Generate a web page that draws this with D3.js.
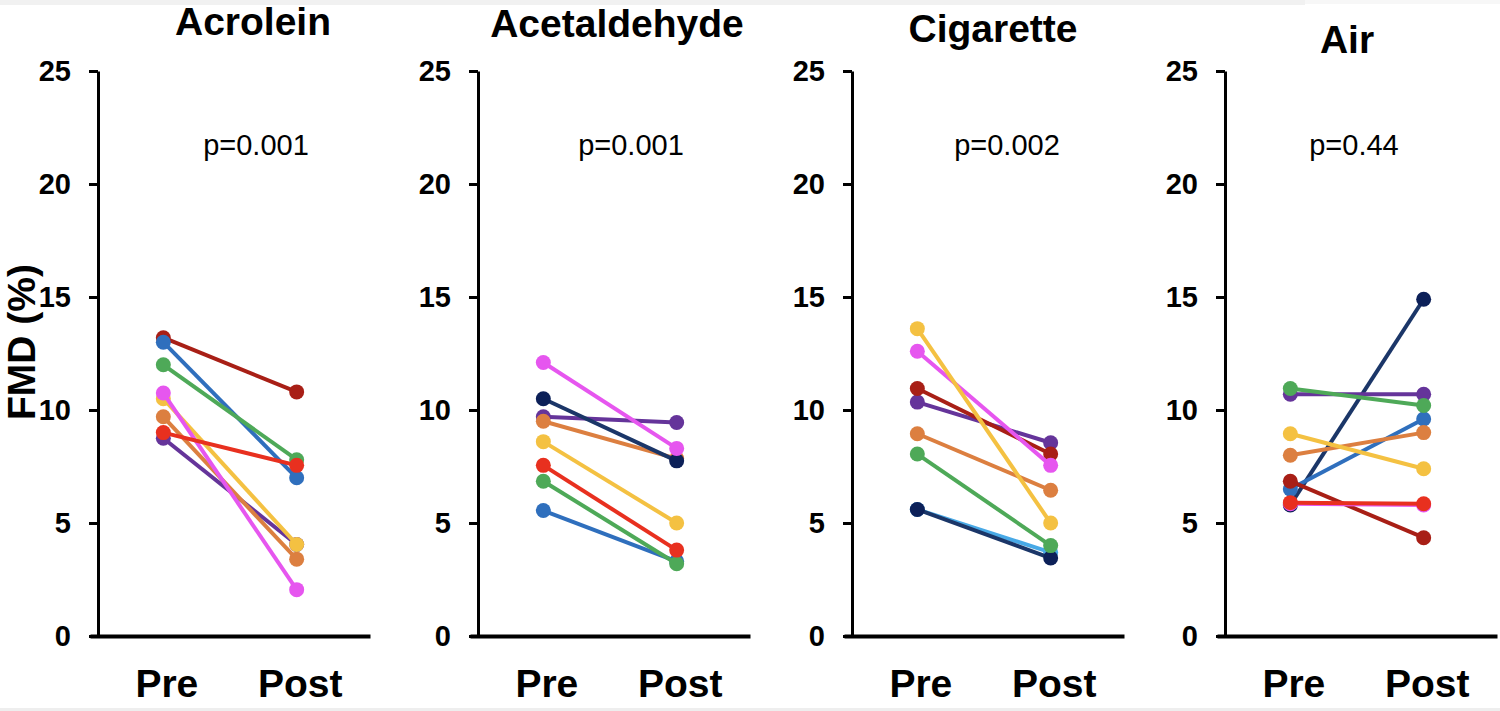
<!DOCTYPE html>
<html>
<head>
<meta charset="utf-8">
<script src="https://cdn.jsdelivr.net/npm/d3@7"></script>
<style>
  html, body { margin: 0; padding: 0; background: #fff; }
  svg { display: block; }
</style>
</head>
<body>
<svg id="chart" width="1500" height="711"></svg>
<script>
// ---------------- DATA ----------------
const panelTitles = ["Acrolein", "Acetaldehyde", "Cigarette", "Air"];
const pValues = ["p=0.001", "p=0.001", "p=0.002", "p=0.44"];
const timepoints = ["Pre", "Post"];
const yTicks = [0, 5, 10, 15, 20, 25];
const yLabel = "FMD (%)";

// subjects (drawing order: later = on top)
const acroleinSubjects = ["darkred", "blue", "green", "purple", "orange", "yellow", "magenta", "red"];
const acroleinPre  = [13.2, 13.0, 12.0, 8.75, 9.7, 10.5, 10.75, 9.0];
const acroleinPost = [10.8, 7.0, 7.8, 4.05, 3.4, 4.05, 2.05, 7.55];

const acetaldehydeSubjects = ["blue", "green", "red", "yellow", "purple", "orange", "navy", "magenta"];
const acetaldehydePre  = [5.55, 6.85, 7.55, 8.6, 9.7, 9.5, 10.5, 12.1];
const acetaldehydePost = [3.3, 3.2, 3.8, 5.0, 9.45, 7.85, 7.75, 8.3];

const cigaretteSubjects = ["lightblue", "navy", "green", "orange", "purple", "darkred", "magenta", "yellow"];
const cigarettePre  = [5.6, 5.6, 8.05, 8.95, 10.35, 10.95, 12.6, 13.6];
const cigarettePost = [3.7, 3.45, 4.0, 6.45, 8.55, 8.05, 7.55, 5.0];

const airSubjects = ["navy", "blue", "darkred", "magenta", "red", "orange", "yellow", "purple", "green"];
const airPre  = [5.8, 6.5, 6.85, 5.85, 5.9, 8.0, 8.95, 10.7, 10.95];
const airPost = [14.9, 9.6, 4.35, 5.8, 5.85, 9.0, 7.4, 10.7, 10.2];

// ---------------- STYLE ----------------
const palette = {
  darkred:  "#a81f16",
  blue:     "#2f6fbd",
  green:    "#4ea958",
  magenta:  "#e656ef",
  yellow:   "#f4c142",
  orange:   "#dc7f40",
  red:      "#e8301f",
  purple:   "#65349a",
  navy:     "#0c2058",
  lightblue:"#48a9e6"
};
const lineColor = Object.assign({}, palette, { navy: "#1b3668" });

const panels = [
  { subjects: acroleinSubjects, pre: acroleinPre, post: acroleinPost },
  { subjects: acetaldehydeSubjects, pre: acetaldehydePre, post: acetaldehydePost },
  { subjects: cigaretteSubjects, pre: cigarettePre, post: cigarettePost },
  { subjects: airSubjects, pre: airPre, post: airPost }
];

// layout
const axisX = [98, 478, 852, 1225];
const titleX = [253, 617, 993, 1347];
const titleY = [35, 37, 42, 53];
const pX = [256, 631, 1007, 1354];
const pY = 155;
const y0 = 636, yTop = 71;
const fontB = "'Liberation Sans', Arial, Helvetica, sans-serif";

const svg = d3.select("#chart");

// light grey strips at page edges
svg.append("rect").attr("x", 0).attr("y", 0).attr("width", 1305).attr("height", 5).attr("fill", "#f1f1f1");
svg.append("rect").attr("x", 1305).attr("y", 0).attr("width", 195).attr("height", 4).attr("fill", "#f7f7f7");
svg.append("rect").attr("x", 0).attr("y", 708).attr("width", 1500).attr("height", 3).attr("fill", "#eeeeee");

const y = d3.scaleLinear().domain([0, 25]).range([y0, yTop]);

panels.forEach((p, i) => {
  const ax = axisX[i];
  const x = d3.scalePoint().domain(timepoints).range([ax - 8, ax + 272]).padding(0.55);
  const g = svg.append("g");

  // Y axis
  const yAxis = g.append("g")
    .attr("transform", `translate(${ax},0)`)
    .call(d3.axisLeft(y).tickValues(yTicks).tickSize(9).tickSizeOuter(0).tickPadding(18));
  yAxis.select(".domain").attr("stroke", "#000").attr("stroke-width", 3);
  yAxis.selectAll(".tick line").attr("stroke", "#000").attr("stroke-width", 3);
  yAxis.selectAll(".tick text")
    .attr("fill", "#000")
    .style("font-family", fontB).style("font-weight", "bold").style("font-size", "29px");

  // X axis
  const xAxis = g.append("g")
    .attr("transform", `translate(0,${y0})`)
    .call(d3.axisBottom(x).tickSize(0).tickSizeOuter(0));
  xAxis.select(".domain").attr("stroke", "#000").attr("stroke-width", 4);
  xAxis.selectAll(".tick text")
    .attr("fill", "#000")
    .attr("y", 61).attr("dy", 0)
    .attr("dx", 3)
    .style("font-family", fontB).style("font-weight", "bold").style("font-size", "39px");

  // Title
  g.append("text")
    .attr("x", titleX[i]).attr("y", titleY[i])
    .attr("text-anchor", "middle")
    .style("font-family", fontB).style("font-weight", "bold").style("font-size", "39px")
    .text(panelTitles[i]);

  // p-value
  g.append("text")
    .attr("x", pX[i]).attr("y", pY)
    .attr("text-anchor", "middle")
    .style("font-family", fontB).style("font-size", "29px")
    .text(pValues[i]);

  // Subjects
  p.subjects.forEach((s, j) => {
    const vals = [p.pre[j], p.post[j]];
    const sg = g.append("g");
    sg.append("line")
      .attr("x1", x("Pre")).attr("y1", y(vals[0]))
      .attr("x2", x("Post")).attr("y2", y(vals[1]))
      .attr("stroke", lineColor[s]).attr("stroke-width", 4);
    sg.selectAll("circle").data(vals).join("circle")
      .attr("cx", (d, k) => x(timepoints[k]))
      .attr("cy", d => y(d))
      .attr("r", 7.5)
      .attr("fill", palette[s]);
  });
});

// Y axis title
svg.append("text")
  .attr("transform", "translate(35,342) rotate(-90)")
  .attr("text-anchor", "middle")
  .style("font-family", fontB).style("font-weight", "bold").style("font-size", "39px")
  .text(yLabel);
</script>
</body>
</html>
